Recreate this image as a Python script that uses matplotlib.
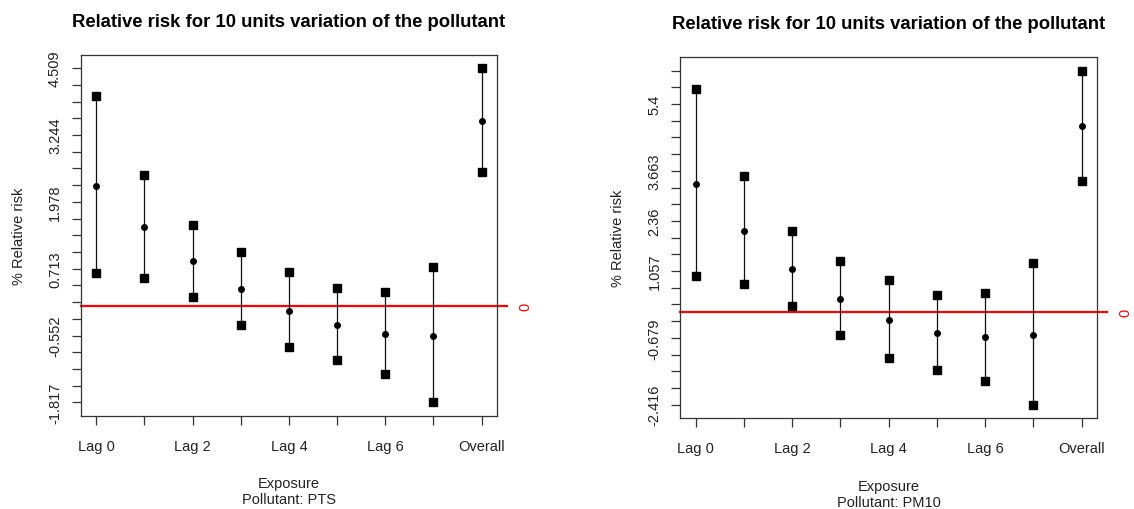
import numpy as np
import matplotlib
matplotlib.use('Agg')
import matplotlib.pyplot as plt

plt.rcParams['font.family'] = ['Liberation Sans', 'DejaVu Sans']

# Lag categories
lags = ['Lag 0', 'Lag 1', 'Lag 2', 'Lag 3', 'Lag 4', 'Lag 5', 'Lag 6', 'Lag 7', 'Overall']
shown_lags = ['Lag 0', 'Lag 2', 'Lag 4', 'Lag 6', 'Overall']

# PTS: % relative risk with 95% interval
pts_est = [2.272, 1.507, 0.850, 0.325, -0.079, -0.351, -0.515, -0.553, 3.504]
pts_low = [0.635, 0.540, 0.186, -0.345, -0.762, -1.008, -1.280, -1.817, 2.537]
pts_high = [3.972, 2.487, 1.545, 1.033, 0.647, 0.338, 0.281, 0.742, 4.509]
pts_ticklabels = ['-1.817', '-0.552', '0.713', '1.978', '3.244', '4.509']
pts_tickidx = [0, 4, 8, 12, 16, 20]

# PM10: % relative risk with 95% interval
pm10_est = [3.323, 2.109, 1.103, 0.332, -0.223, -0.544, -0.665, -0.596, 4.822]
pm10_low = [0.930, 0.713, 0.150, -0.613, -1.203, -1.506, -1.792, -2.416, 3.401]
pm10_high = [5.793, 3.522, 2.100, 1.329, 0.817, 0.436, 0.479, 1.277, 6.270]
pm10_ticklabels = ['-2.416', '-0.679', '1.057', '2.36', '3.663', '5.4']
pm10_tickidx = [0, 4, 8, 11, 14, 18]


def risk_panel(ax, est, low, high, ticklabels, tickidx, pollutant):
    x = np.arange(1, len(lags) + 1)
    est, low, high = np.array(est), np.array(low), np.array(high)

    ax.axhline(0, xmin=0, xmax=1.024, color='red', lw=1.6, clip_on=False, zorder=1)
    ax.vlines(x, low, high, color='#111111', lw=0.9, zorder=2)
    ax.plot(x, low, 's', color='black', ms=5.2, zorder=3)
    ax.plot(x, high, 's', color='black', ms=5.2, zorder=3)
    ax.plot(x, est, 'o', color='black', ms=4, zorder=3)

    ymin, ymax = low.min(), high.max()
    pad = 0.04 * (ymax - ymin)
    ax.set_ylim(ymin - pad, ymax + pad)
    ax.set_xlim(1 - 0.04 * 8, 9 + 0.04 * 8)

    yt = np.linspace(ymin, ymax, 21)
    ylabs = [''] * 21
    for i, lab in zip(tickidx, ticklabels):
        ylabs[i] = lab
    ax.set_yticks(yt)
    ax.set_yticklabels(ylabs, rotation=90, va='center')

    ax.set_xticks(x)
    ax.set_xticklabels([l if l in shown_lags else '' for l in lags])

    ax.tick_params(direction='out', length=6.5, width=0.9, color='#333333',
                   labelsize=10.5, labelcolor='#222222')
    ax.tick_params(axis='y', pad=7)
    ax.tick_params(axis='x', pad=10)
    for s in ax.spines.values():
        s.set_color('#333333')
        s.set_linewidth(0.9)

    ax.text(1.067, 0, '0', color='red', rotation=90, ha='center', va='center',
            fontsize=10.5, transform=ax.get_yaxis_transform())
    ax.set_ylabel('% Relative risk', fontsize=10.5, color='#222222', labelpad=16)
    ax.set_xlabel('Exposure\nPollutant: ' + pollutant, fontsize=10.5,
                  color='#222222', labelpad=17)
    ax.set_title('Relative risk for 10 units variation of the pollutant',
                 fontsize=13.3, fontweight='bold', pad=21)


fig = plt.figure(figsize=(11.34, 5.10), dpi=100)
ax1 = fig.add_axes([0.0712, 0.1829, 0.3671, 0.7078])
ax2 = fig.add_axes([0.5999, 0.1784, 0.3675, 0.7073])

risk_panel(ax1, pts_est, pts_low, pts_high, pts_ticklabels, pts_tickidx, 'PTS')
risk_panel(ax2, pm10_est, pm10_low, pm10_high, pm10_ticklabels, pm10_tickidx, 'PM10')

fig.savefig('out.png', dpi=100)
